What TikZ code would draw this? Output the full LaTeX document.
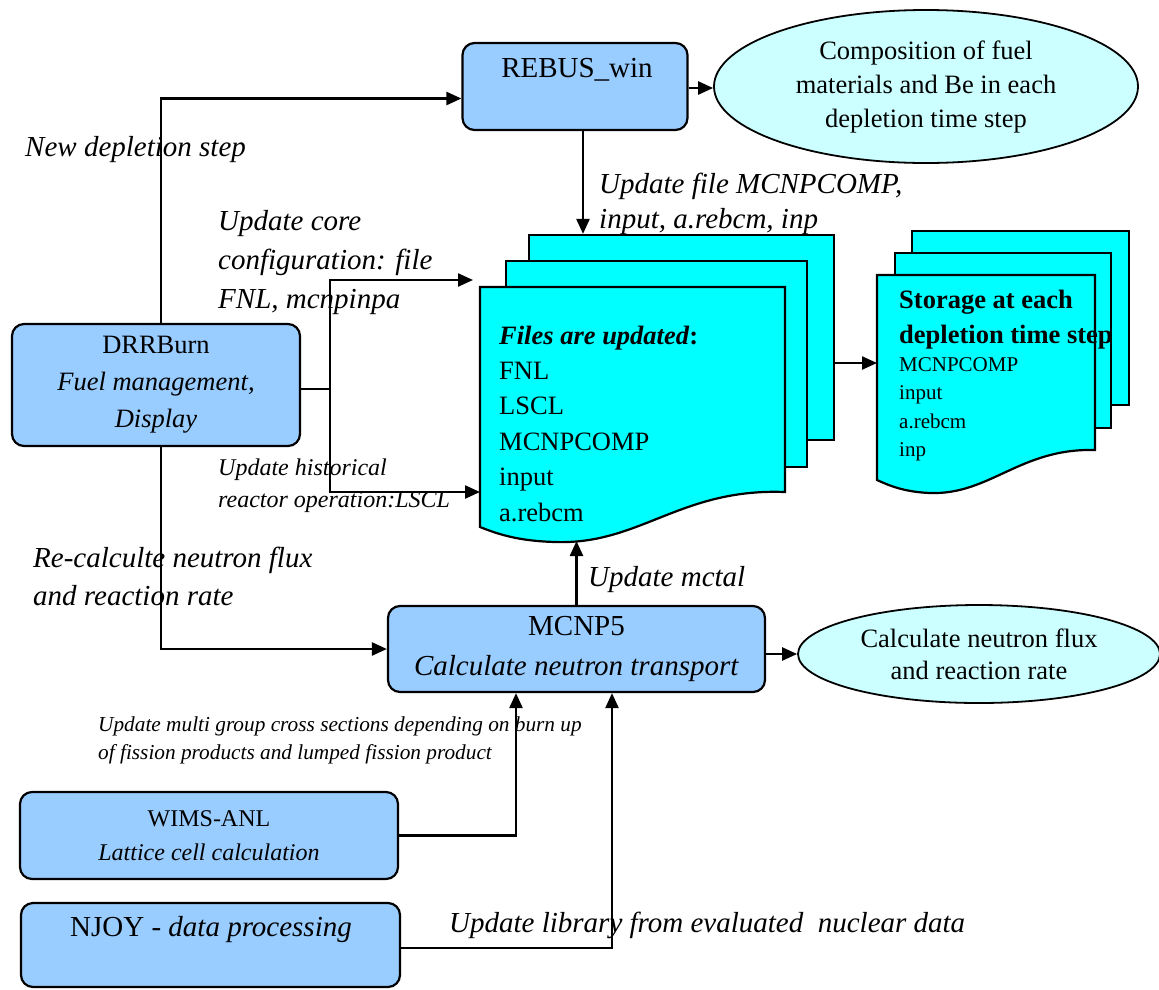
\documentclass[tikz,border=0pt]{standalone}
\usepackage{fontspec}
\setmainfont{Liberation Serif}
\usetikzlibrary{positioning,arrows.meta,shapes.geometric}
\definecolor{progblue}{HTML}{99CCFF}
\definecolor{filecyan}{HTML}{00FFFF}
\definecolor{resultcyan}{HTML}{CCFFFF}
\tikzset{
  prog/.style={draw, line width=2.2pt, rounded corners=12pt, fill=progblue, align=center},
  result/.style={ellipse, draw, line width=1.8pt, fill=resultcyan, align=center},
  page/.style={draw, line width=2.2pt, fill=filecyan},
  flow/.style={line width=2.4pt, -{Triangle[length=15pt,width=13pt]}},
  wire/.style={line width=2.4pt},
  note/.style={anchor=west, align=left, font=\fontsize{29}{38}\selectfont\itshape},
}
\begin{document}
\begin{tikzpicture}[x=1pt,y=-1pt]
			\tikzstyle{every node}+=[inner sep=0pt]
			\useasboundingbox (0,0) rectangle (1159,989);
			\node[page, minimum width=305pt, minimum height=205pt] (filesback) at (681.5,337.5) {};
			\node[page, minimum width=301pt, minimum height=206pt] (filesmid) at (656.5,364) {};
			\draw[page] (480,287) -- (785,287) -- (785,492) .. controls (680,488) and (640,545) .. (555,542) .. controls (520,541) and (500,535) .. (480,527) -- cycle;
			\node[anchor=west, align=left, font=\fontsize{26.5}{35.4}\selectfont] (filestxt) at (499,423.5) {\textbf{\textit{Files are updated}:}\\FNL\\LSCL\\MCNPCOMP\\input\\a.rebcm};
			\node[page, minimum width=217pt, minimum height=174pt] (storeback) at (1020.5,318) {};
			\node[page, minimum width=216pt, minimum height=175pt] (storemid) at (1003,340.5) {};
			\draw[page] (877,275) -- (1095,275) -- (1095,450) .. controls (1020,448) and (990,495) .. (930,493) .. controls (905,492) and (890,486) .. (877,480) -- cycle;
			\node[anchor=west, align=left, font=\fontsize{26.5}{35}\selectfont\bfseries] (storehead) at (899,319.5) {Storage at each\\depletion time step};
			\node[anchor=west, align=left, font=\fontsize{21}{28.5}\selectfont] (storelist) at (899,409.5) {MCNPCOMP\\input\\a.rebcm\\inp};
			\node[prog, minimum width=225pt, minimum height=87pt] (rebus) at (575,86.5) {};
			\node[font=\fontsize{29}{38}\selectfont] (rebustxt) at (577,70) {REBUS\_win};
			\node[prog, minimum width=288pt, minimum height=122pt, font=\fontsize{26.5}{37}\selectfont] (drr) at (156,385) {DRRBurn\\\textit{Fuel management,}\\\textit{Display}};
			\node[prog, minimum width=377pt, minimum height=86pt, font=\fontsize{29}{40}\selectfont] (mcnp) at (576.5,649) {MCNP5\\\textit{Calculate neutron transport}};
			\node[prog, minimum width=378pt, minimum height=87pt, font=\fontsize{24}{34}\selectfont] (wims) at (209,835.5) {WIMS-ANL\\\textit{Lattice cell calculation}};
			\node[prog, minimum width=379pt, minimum height=84pt] (njoy) at (210.5,945) {};
			\node[font=\fontsize{29}{38}\selectfont] (njoytxt) at (211,930) {NJOY - \textit{data processing}};
			\node[result, minimum width=424pt, minimum height=153pt, font=\fontsize{26.5}{34}\selectfont] (comp) at (926,86.5) {Composition of fuel\\materials and Be in each\\depletion time step};
			\node[result, minimum width=362pt, minimum height=98pt, font=\fontsize{26.5}{32}\selectfont] (flux) at (979,654) {Calculate neutron flux\\and reaction rate};
			\coordinate (corein) at (473,280);
			\coordinate (histin) at (480,492);
			\coordinate (split) at (330,389);
			\coordinate (storein) at (877,363);
			\coordinate (filesbot) at (576.5,541);
			\draw[flow] ([xshift=5pt]drr.north) |- ([yshift=-12pt]rebus.west);
			\draw[flow] ([yshift=-1.5pt]rebus.east) -- ([yshift=-1.5pt]rebus.east -| comp.west);
			\draw[flow] ([xshift=8pt]rebus.south) -- ([xshift=8pt]rebus.south |- filesback.north);
			\draw[wire] (drr.east |- split) -- (split);
			\draw[flow] (split) |- (corein);
			\draw[flow] (split) |- (histin);
			\draw[flow] ([xshift=5pt]drr.south) |- (mcnp.west);
			\draw[flow] (mcnp.north) -- (filesbot);
			\draw[flow] (storein -| filesback.east) -- (storein);
			\draw[flow] ([yshift=-5pt]mcnp.east) -- ([yshift=-5pt]mcnp.east -| flux.west);
			\draw[flow] (wims.east) -| ([xshift=-60.5pt]mcnp.south);
			\draw[flow] ([yshift=-3pt]njoy.east) -| ([xshift=35.5pt]mcnp.south);
			\node[note] (lbldepl) at (25,150) {New depletion step};
			\node[note, font=\fontsize{29}{35}\selectfont\itshape] (lblrebus) at (599,203.5) {Update file MCNPCOMP,\\input, a.rebcm, inp};
			\node[note, font=\fontsize{29}{39}\selectfont\itshape] (lblcore) at (218,263) {Update core\\configuration: file\\FNL, mcnpinpa};
			\node[note, font=\fontsize{24}{32}\selectfont\itshape] (lblhist) at (218,486) {Update historical\\reactor operation:LSCL};
			\node[note] (lblflux) at (33,576) {Re-calculte neutron flux\\and reaction rate};
			\node[note] (lblmctal) at (588,580) {Update mctal};
			\node[note, font=\fontsize{21.3}{28}\selectfont\itshape] (lblxs) at (98,740) {Update multi group cross sections depending on burn up\\of fission products and lumped fission product};
			\node[note] (lbllib) at (449,925) {Update library from evaluated\ \ nuclear data};
\end{tikzpicture}
\end{document}
